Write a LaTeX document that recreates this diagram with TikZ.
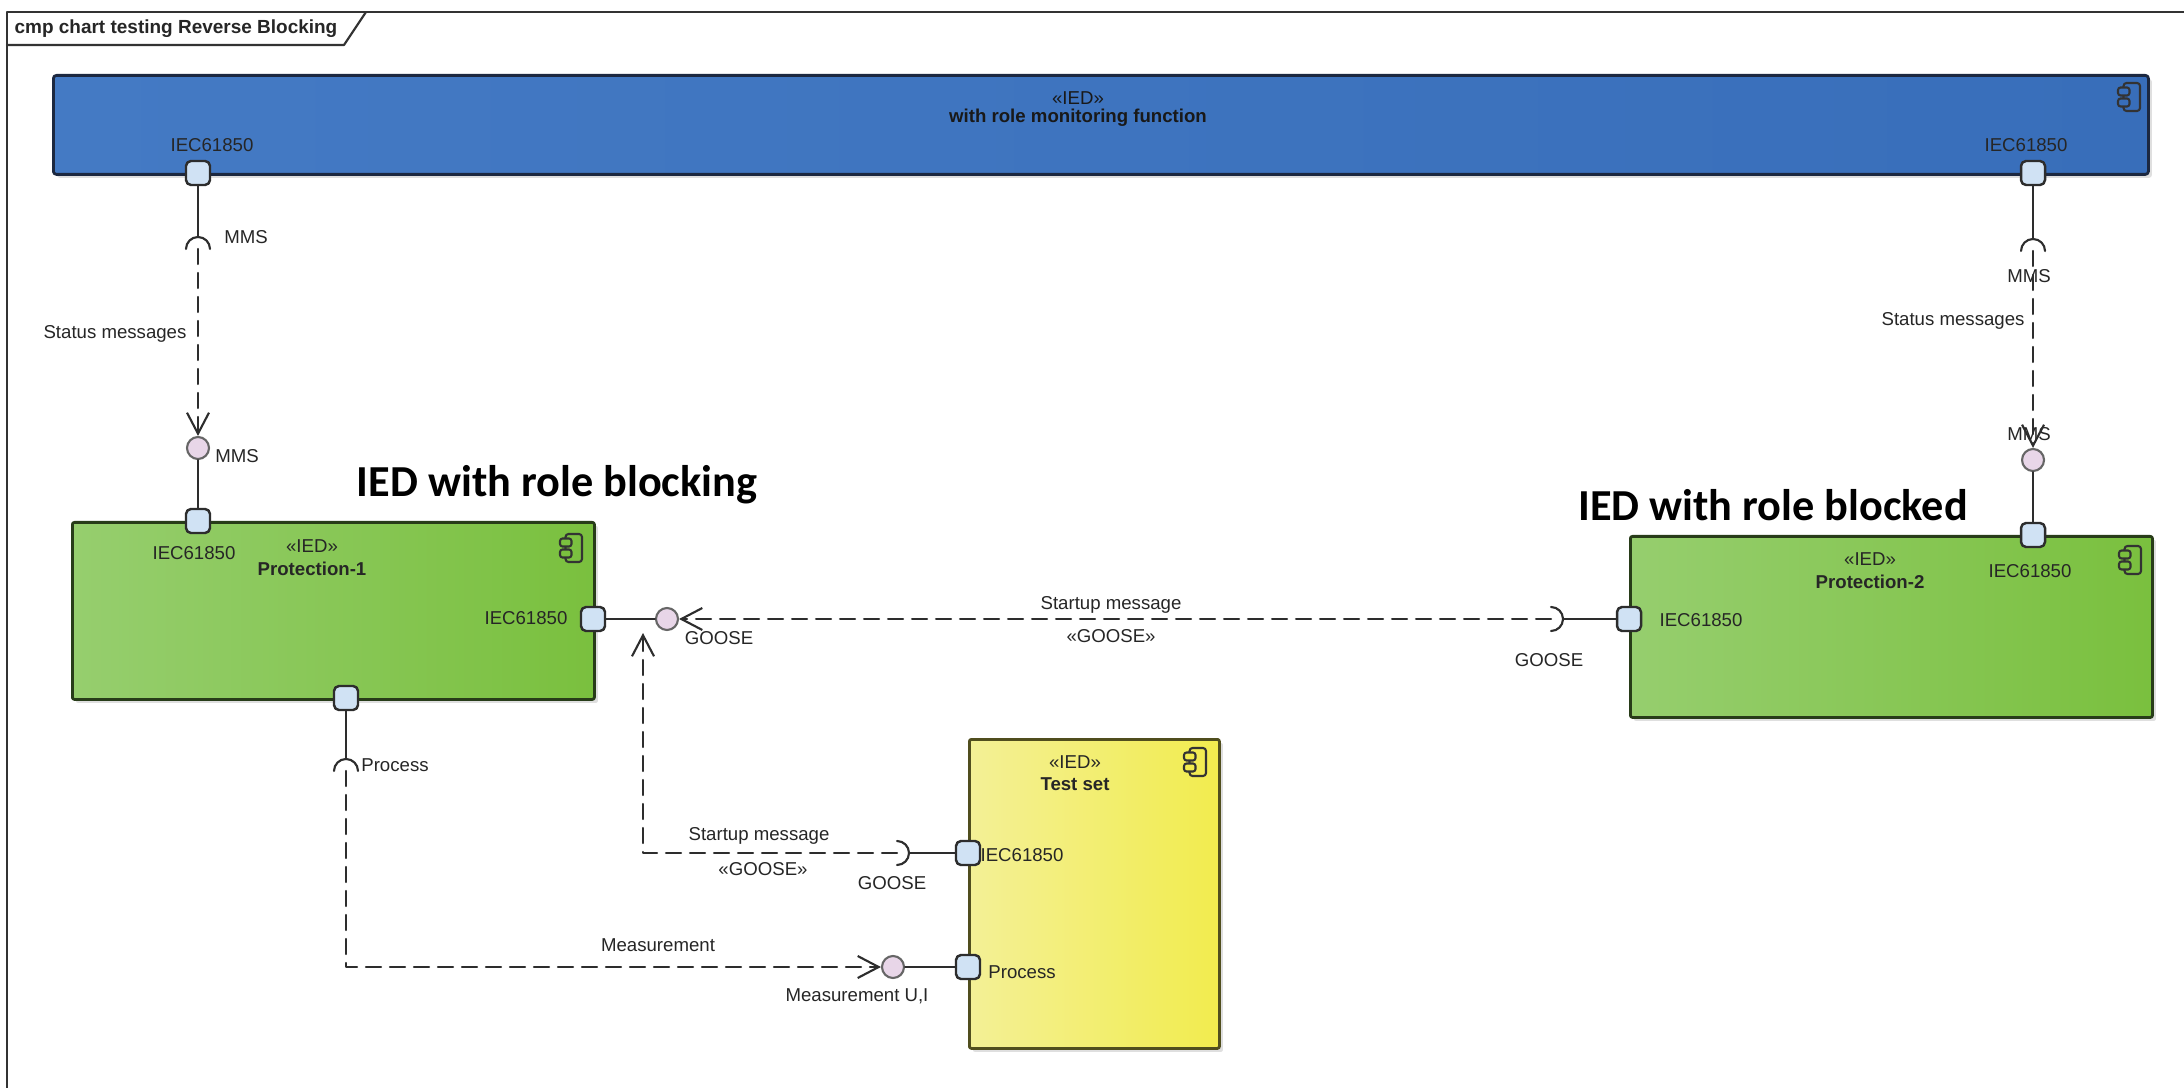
\documentclass[tikz,border=0pt]{standalone}
\usepackage{fontspec}
\setmainfont{Liberation Sans}
\newfontfamily\headfont{Carlito}
\usetikzlibrary{arrows.meta,shadows}

\definecolor{monblueL}{RGB}{68,122,196}
\definecolor{monblueR}{RGB}{56,110,186}
\definecolor{monedge}{RGB}{28,40,64}
\definecolor{protgreenL}{RGB}{150,206,110}
\definecolor{protgreenR}{RGB}{122,192,62}
\definecolor{protedge}{RGB}{40,60,25}
\definecolor{testyellowL}{RGB}{243,240,150}
\definecolor{testyellowR}{RGB}{242,236,78}
\definecolor{testedge}{RGB}{80,78,30}
\definecolor{portblue}{RGB}{208,226,244}
\definecolor{provpink}{RGB}{232,214,232}
\definecolor{linegray}{RGB}{45,45,45}

\newcommand{\lblfont}{\fontsize{5.3}{6.3}\selectfont}

\begin{document}
\begin{tikzpicture}[line cap=round,line join=round,x=0.1mm,y=-0.1mm,
	>={Straight Barb[length=2.1mm,width=2.2mm]},
	lbl/.style={inner sep=0pt,font=\lblfont,text=black!85},
	bold/.style={inner sep=0pt,font=\lblfont\bfseries,text=black!85},
	head/.style={inner sep=0pt,font=\headfont\bfseries\fontsize{12.6}{15}\selectfont},
	cmpbox/.style={rectangle,anchor=north west,inner sep=0pt,line width=0.8pt,
		drop shadow={shadow xshift=0.35mm,shadow yshift=-0.35mm,opacity=0.25}},
	port/.style={rectangle,draw=linegray,line width=0.7pt,fill=portblue,rounded corners=0.5mm,
		minimum size=2.4mm,inner sep=0pt},
	prov/.style={circle,draw=black!60,line width=0.6pt,fill=provpink,minimum size=2.2mm,inner sep=0pt},
	wire/.style={draw=linegray,line width=0.6pt},
	dep/.style={draw=linegray,line width=0.6pt,dash pattern=on 1.5mm off 0.9mm},
	pics/cmpicon/.style={code={
		\draw[line width=0.6pt,draw=black!80,rounded corners=0.3mm] (-0.55mm,-1.4mm) rectangle (1.1mm,1.4mm);
		\filldraw[line width=0.6pt,draw=black!80,fill=#1,rounded corners=0.25mm] (-1.1mm,0.15mm) rectangle (0.05mm,0.95mm);
		\filldraw[line width=0.6pt,draw=black!80,fill=#1,rounded corners=0.25mm] (-1.1mm,-0.95mm) rectangle (0.05mm,-0.15mm);
	}}]
	\useasboundingbox (0,0) rectangle (2184,1088);
	\clip (0,0) rectangle (2184,1088);
	\fill[white] (0,0) rectangle (2184,1088);
	% diagram frame
	\draw[line width=0.7pt,draw=black!80] (7,1100) -- (7,12) -- (2200,12);
	\draw[line width=0.6pt,draw=black!80] (7,45) -- (344,45) -- (366,12);
	\node[bold,font=\fontsize{5.4}{6.4}\selectfont\bfseries] (frameTitle) at (176,29) {cmp chart testing Reverse Blocking};
	% components
	\node[cmpbox,draw=monedge,left color=monblueL,right color=monblueR,rounded corners=0.3mm,
		minimum width=209.5mm,minimum height=9.9mm] (monitor) at (52,74) {};
	\node[cmpbox,draw=protedge,left color=protgreenL,right color=protgreenR,rounded corners=0.2mm,
		minimum width=52.2mm,minimum height=17.7mm] (prot1) at (71,521) {};
	\node[cmpbox,draw=protedge,left color=protgreenL,right color=protgreenR,rounded corners=0.2mm,
		minimum width=52.2mm,minimum height=18.1mm] (prot2) at (1629,535) {};
	\node[cmpbox,draw=testedge,left color=testyellowL,right color=testyellowR,rounded corners=0.2mm,
		minimum width=25.0mm,minimum height=30.9mm] (testset) at (968,738) {};
	\pic at (2129,97) {cmpicon=monblueR};
	\pic at (571,548) {cmpicon=protgreenR};
	\pic at (2130,560) {cmpicon=protgreenR};
	\pic at (1195,762) {cmpicon=testyellowR};
	% component texts
	\node[lbl,text=black!90] (monStereo) at (1078,98) {«IED»};
	\node[bold,text=black!90] (monName) at (1078,118) {with role monitoring function};
	\node[lbl] (p1Stereo) at (312,546) {«IED»};
	\node[bold] (p1Name) at (312,569) {Protection-1};
	\node[lbl] (p2Stereo) at (1870,559) {«IED»};
	\node[bold] (p2Name) at (1870,582) {Protection-2};
	\node[lbl] (tsStereo) at (1075,762) {«IED»};
	\node[bold] (tsName) at (1075,784) {Test set};
	\node[head] (titleBlocking) at (557,485) {IED with role blocking};
	\node[head] (titleBlocked) at (1773,505) {IED with role blocked};
	% port and interface labels
	\node[lbl] (monP1lbl) at (212,145) {IEC61850};
	\node[lbl] (monP2lbl) at (2026,145) {IEC61850};
	\node[lbl] (p1Toplbl) at (194,553) {IEC61850};
	\node[lbl] (p1Rightlbl) at (526,618) {IEC61850};
	\node[lbl] (p2Toplbl) at (2030,571) {IEC61850};
	\node[lbl] (p2Leftlbl) at (1701,620) {IEC61850};
	\node[lbl] (tsGooselbl) at (1022,855) {IEC61850};
	\node[lbl] (tsProclbl) at (1022,972) {Process};
	\node[lbl] (mmsReq1lbl) at (246,237) {MMS};
	\node[lbl] (mmsProv1lbl) at (237,456) {MMS};
	\node[lbl] (mmsReq2lbl) at (2029,276) {MMS};
	\node[lbl] (mmsProv2lbl) at (2029,434) {MMS};
	\node[lbl] (gooseProvlbl) at (719,638) {GOOSE};
	\node[lbl] (gooseReq2lbl) at (1549,660) {GOOSE};
	\node[lbl] (gooseReqTlbl) at (892,883) {GOOSE};
	\node[lbl] (procReqlbl) at (395,765) {Process};
	\node[lbl] (measProvlbl) at (857,996) {Measurement U,I};
	% connector labels
	\node[lbl] (status1) at (115,334) {Status messages};
	\node[lbl] (status2) at (1953,321) {Status messages};
	\node[lbl] (startup1) at (1111,605) {Startup message};
	\node[lbl] (startup1st) at (1111,636) {«GOOSE»};
	\node[lbl] (startup2) at (759,836) {Startup message};
	\node[lbl] (startup2st) at (763,869) {«GOOSE»};
	\node[lbl] (measure) at (658,945) {Measurement};
	% ports
	\node[port] (monP1) at (198,173) {};
	\node[port] (monP2) at (2033,173) {};
	\node[port] (p1Top) at (198,521) {};
	\node[port] (p1Right) at (593,619) {};
	\node[port] (p1Bottom) at (346,698) {};
	\node[port] (p2Top) at (2033,535) {};
	\node[port] (p2Left) at (1629,619) {};
	\node[port] (tsGoose) at (968,853) {};
	\node[port] (tsProc) at (968,967) {};
	% provided interfaces
	\node[prov] (mmsProv1) at (198,448) {};
	\node[prov] (mmsProv2) at (2033,460) {};
	\node[prov] (gooseProv) at (667,619) {};
	\node[prov] (measProv) at (893,967) {};
	% required interfaces
	\coordinate (mmsReq1) at (198,249);
	\coordinate (mmsReq2) at (2033,251);
	\coordinate (gooseReq2) at (1551,619);
	\coordinate (gooseReqT) at (897,853);
	\coordinate (procReq) at (346,771);
	\coordinate (gooseTip) at (643,633);
	\draw[wire] ([xshift=-1.2mm]mmsReq1) arc (180:0:1.2mm);
	\draw[wire] ([xshift=-1.2mm]mmsReq2) arc (180:0:1.2mm);
	\draw[wire] ([xshift=-1.2mm]procReq) arc (180:0:1.2mm);
	\draw[wire] ([yshift=1.2mm]gooseReq2) arc (90:-90:1.2mm);
	\draw[wire] ([yshift=1.2mm]gooseReqT) arc (90:-90:1.2mm);
	% assembly wires
	\draw[wire] (monP1) -- ([yshift=1.2mm]mmsReq1);
	\draw[wire] (mmsProv1) -- (p1Top);
	\draw[wire] (monP2) -- ([yshift=1.2mm]mmsReq2);
	\draw[wire] (mmsProv2) -- (p2Top);
	\draw[wire] (p1Right) -- (gooseProv);
	\draw[wire] ([xshift=1.2mm]gooseReq2) -- (p2Left);
	\draw[wire] ([xshift=1.2mm]gooseReqT) -- (tsGoose);
	\draw[wire] (p1Bottom) -- ([yshift=1.2mm]procReq);
	\draw[wire] (measProv) -- (tsProc);
	% dependencies
	\draw[dep,->] (mmsReq1) -- (mmsProv1);
	\draw[dep,->] (mmsReq2) -- (mmsProv2);
	\draw[dep,->] (gooseReq2) -- (gooseProv);
	\draw[dep,->] (gooseReqT) -| (gooseTip);
	\draw[dep,->] (procReq) |- (measProv);
\end{tikzpicture}
\end{document}
